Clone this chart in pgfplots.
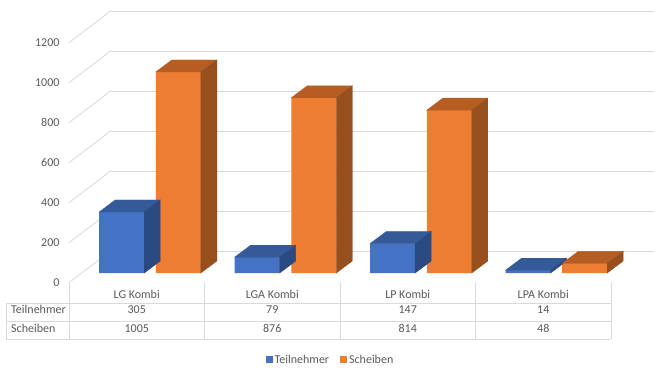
\documentclass[border=0pt]{standalone}
\usepackage{pgfplots}
\pgfplotsset{compat=1.18}
\usepackage{pgfplotstable}
\usepackage{fontspec}
\setmainfont{Carlito}
\definecolor{txt}{HTML}{595959}
\definecolor{gridc}{HTML}{D9D9D9}
\definecolor{blueF}{HTML}{4472C4}
\definecolor{blueT}{HTML}{345A97}
\definecolor{blueS}{HTML}{2B4A82}
\definecolor{orF}{HTML}{ED7D31}
\definecolor{orT}{HTML}{B55D22}
\definecolor{orS}{HTML}{984F1E}
\pgfdeclareplotmark{nothing}{}

\pgfplotstableread[col sep=comma]{
x,name,T,S
0,LG Kombi,305,1005
1,LGA Kombi,79,876
2,LP Kombi,147,814
3,LPA Kombi,14,48
}\data

\begin{document}
\begin{tikzpicture}[font=\fontsize{12bp}{14bp}\selectfont]
\path[use as bounding box] (0bp,0bp) rectangle (659bp,368bp);

% back wall
\begin{axis}[at={(111bp,117bp)}, anchor=south west, scale only axis,
  width=543bp, height=240bp, xmin=0, xmax=1, ymin=0, ymax=1200,
  ytick={0,200,...,1200}, yticklabels={}, xtick=\empty,
  ymajorgrids, grid style={gridc, line width=0.8bp},
  axis line style={draw=none}, major tick length=0pt]
\addplot[draw=none] coordinates {(0,0)};
\end{axis}

% side wall diagonals and value labels
\begin{axis}[at={(69bp,85.3bp)}, anchor=origin, disabledatascaling,
  x={(42bp,32bp)}, y={(0bp,0.2bp)},
  xmin=0, xmax=1, ymin=0, ymax=1200,
  ytick={0,200,...,1200}, xtick=\empty,
  ymajorgrids, grid style={gridc, line width=0.8bp},
  axis line style={draw=none}, major tick length=0pt,
  /pgf/number format/assume math mode=true,
  /pgf/number format/1000 sep={},
  yticklabel style={anchor=east, text=txt, xshift=-6bp,
    font=\fontsize{12bp}{14bp}\selectfont}]
\addplot[draw=none] coordinates {(0,0)};
\end{axis}

% bars
\begin{axis}[at={(82.27bp,95bp)}, anchor=south west, scale only axis,
  width=541.9bp, height=240bp, xmin=-0.5, xmax=3.5, ymin=0, ymax=1200,
  axis line style={draw=none}, xtick=\empty, ytick=\empty, clip=false,
  legend columns=2,
  legend style={at={(0.458,-0.361)}, anchor=center, draw=none, fill=none,
    font=\fontsize{12bp}{14bp}\selectfont, text=txt,
    /tikz/every even column/.append style={column sep=9bp}},
  legend cell align=left]
\addplot[ybar, bar width=45bp, bar shift=-28.3bp, fill=blueF, draw=none,
  legend image code/.code={\fill[blueF] (0bp,-3.5bp) rectangle (7bp,3.5bp);}]
  table[x=x,y=T]{\data};
\addlegendentry{Teilnehmer}
\addplot[scatter, only marks, mark=nothing, forget plot,
  visualization depends on={rawy\as\val},
  scatter/@pre marker code/.code={%
    \fill[blueT] (-50.8bp,0bp) -- ++(45bp,0bp) -- ++(16bp,12bp) -- ++(-45bp,0bp) -- cycle;
    \fill[blueS] (-5.8bp,0bp) -- ++(16bp,12bp) -- ++(axis direction cs:0,-\val) -- ++(-16bp,-12bp) -- cycle;
  },
  scatter/@post marker code/.code={}]
  table[x=x,y=T]{\data};
\addplot[ybar, bar width=45bp, bar shift=28.3bp, fill=orF, draw=none,
  legend image code/.code={\fill[orF] (0bp,-3.5bp) rectangle (7bp,3.5bp);}]
  table[x=x,y=S]{\data};
\addlegendentry{Scheiben}
\addplot[scatter, only marks, mark=nothing, forget plot,
  visualization depends on={rawy\as\val},
  scatter/@pre marker code/.code={%
    \fill[orT] (5.8bp,0bp) -- ++(45bp,0bp) -- ++(16bp,12bp) -- ++(-45bp,0bp) -- cycle;
    \fill[orS] (50.8bp,0bp) -- ++(16bp,12bp) -- ++(axis direction cs:0,-\val) -- ++(-16bp,-12bp) -- cycle;
  },
  scatter/@post marker code/.code={}]
  table[x=x,y=S]{\data};
\end{axis}

% data table
\begin{scope}[x=1bp, y=1bp]
\begin{scope}[gridc, line width=0.8bp]
\draw (6,64.7) -- (611,64.7);
\draw (6,46.3) -- (611,46.3);
\draw (6,29) -- (611,29);
\draw (6,64.7) -- (6,29);
\draw (69,85.3) -- (69,29);
\draw (204.5,86) -- (204.5,29);
\draw (340,86) -- (340,29);
\draw (475.5,86) -- (475.5,29);
\draw (611,86) -- (611,29);
\end{scope}
\foreach \i in {0,1,2,3}{
  \pgfplotstablegetelem{\i}{name}\of\data \let\nm\pgfplotsretval
  \pgfplotstablegetelem{\i}{T}\of\data \let\tv\pgfplotsretval
  \pgfplotstablegetelem{\i}{S}\of\data \let\sv\pgfplotsretval
  \pgfmathsetmacro\cx{136.75+135.5*\i}
  \node[anchor=base, text=txt] at (\cx,69.2) {\nm};
  \node[anchor=base, text=txt] at (\cx,54.2) {\tv};
  \node[anchor=base, text=txt] at (\cx,36) {\sv};
}
\node[anchor=base west, inner sep=0pt, text=txt] at (11,54.2) {Teilnehmer};
\node[anchor=base west, inner sep=0pt, text=txt] at (11,36) {Scheiben};
\end{scope}
\end{tikzpicture}
\end{document}
